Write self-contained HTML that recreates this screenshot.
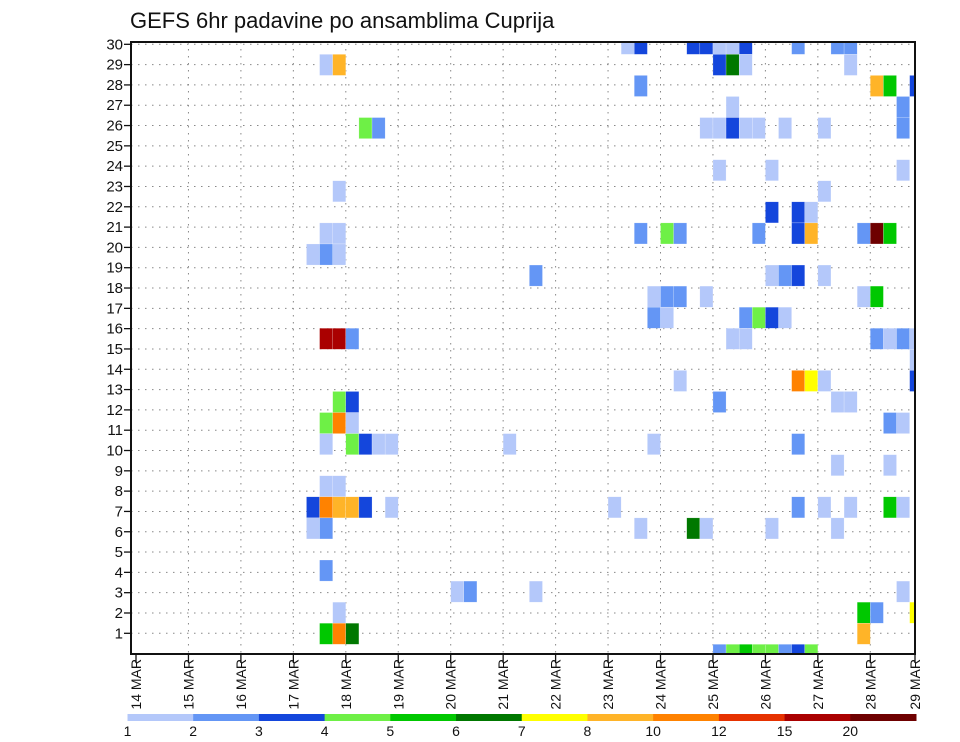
<!DOCTYPE html>
<html><head><meta charset="utf-8"><style>
body{margin:0;background:#fff;}
svg{display:block;font-family:"Liberation Sans",sans-serif;}
</style></head><body>
<svg id="chart" width="960" height="742" viewBox="0 0 960 742" xmlns="http://www.w3.org/2000/svg">
<rect width="960" height="742" fill="#fff"/>
<text x="130" y="28" font-size="22" fill="#111">GEFS 6hr padavine po ansamblima Cuprija</text>
<defs><clipPath id="pc"><rect x="131" y="42" width="784" height="612"/></clipPath></defs>
<g id="grid"></g>
<g id="cells" clip-path="url(#pc)"></g>
<rect x="131" y="42" width="784" height="612" fill="none" stroke="#111" stroke-width="2"/>
<g id="axes"></g>
<g id="cbar"></g>
</svg>
<script>
const dayLabels=["14 MAR","15 MAR","16 MAR","17 MAR","18 MAR","19 MAR","20 MAR","21 MAR","22 MAR","23 MAR","24 MAR","25 MAR","26 MAR","27 MAR","28 MAR","29 MAR"];
const memberTicks=[1,2,3,4,5,6,7,8,9,10,11,12,13,14,15,16,17,18,19,20,21,22,23,24,25,26,27,28,29,30];
const levelLabels=["1","2","3","4","5","6","7","8","10","12","15","20"];
const levelColors=["#b4c8fa","#6496f5","#1446dc","#6ef046","#00c800","#007800","#ffff00","#ffb428","#ff8200","#e63200","#aa0000","#6e0000"];
// member row index (0 = bottom), 6-hour step index from 14 MAR 00z, level category
const cellMember=[29,29,29,29,29,29,29,29,29,29,
28,28,28,28,28,28,
27,27,27,27,
26,26,
25,25,25,25,25,25,25,25,25,25,
23,23,23,
22,22,
21,21,21,
20,20,20,20,20,20,20,20,20,20,20,
19,19,19,
18,18,18,18,18,
17,17,17,17,17,17,
16,16,16,16,16,16,
15,15,15,15,15,15,15,15,15,
14,
13,13,13,13,13,
12,12,12,12,12,
11,11,11,11,11,
10,10,10,10,10,10,10,10,
9,9,
8,8,
7,7,7,7,7,7,7,7,7,7,7,7,
6,6,6,6,6,6,6,
4,
3,3,3,3,
2,2,2,2,
1,1,1,1,
0,0,0,0,0,0,0,0];
const cellStep=[37,38,42,43,44,45,46,50,53,54,
14,15,44,45,46,54,
38,56,57,59,
45,58,
17,18,43,44,45,46,47,49,52,58,
44,48,58,
15,52,
48,50,51,
14,15,38,40,41,47,50,51,55,56,57,
13,14,15,
30,48,49,50,52,
39,40,41,43,55,56,
39,40,46,47,48,49,
14,15,16,45,46,56,57,58,59,
59,
41,50,51,52,59,
15,16,44,53,54,
14,15,16,57,58,
14,16,17,18,19,28,39,50,
53,57,
14,15,
13,14,15,16,17,19,36,50,52,54,57,58,
13,14,38,42,43,48,53,
14,
24,25,30,58,
15,55,56,59,
14,15,16,55,
44,45,46,47,48,49,50,51];
const cellLevel=[0,2,2,2,0,0,2,1,1,1,
0,7,2,5,0,0,
1,7,4,2,
0,1,
3,1,0,0,2,0,0,0,0,1,
0,0,0,
0,0,
2,2,0,
0,0,1,3,1,1,2,7,1,11,4,
0,1,0,
1,0,1,2,0,
0,1,1,0,0,4,
1,0,1,3,2,0,
10,10,1,0,0,1,0,1,0,
0,
0,8,6,0,2,
3,2,1,0,0,
3,8,0,1,0,
0,3,2,0,0,0,0,1,
0,0,
0,0,
2,8,7,7,2,0,0,1,0,0,4,0,
0,1,0,5,0,0,0,
1,
0,1,0,0,
0,4,1,6,
4,8,5,7,
1,3,4,3,3,1,2,3];
const NS="http://www.w3.org/2000/svg";
const X0=136, DW=52.45, STEPW=DW/4;
const xDay=d=>X0+d*DW;
const xStep=s=>X0+s*STEPW;
const CELLH=21.07;
const yCellTop=m=>644.3-m*CELLH;
const yTick=v=>633.3-(v-1)*20.31;
function mk(tag,attrs,parent){const e=document.createElementNS(NS,tag);for(const k in attrs)e.setAttribute(k,attrs[k]);parent.appendChild(e);return e;}
const grid=document.getElementById('grid'),cells=document.getElementById('cells'),axes=document.getElementById('axes'),cbar=document.getElementById('cbar');
memberTicks.forEach(v=>{
  const l=mk('line',{x1:131,x2:915,y1:yTick(v),y2:yTick(v),stroke:'#888','stroke-width':1,'stroke-dasharray':'1.5 5.5'},grid);
  
  
  const t=mk('line',{x1:124,x2:131,y1:yTick(v),y2:yTick(v),stroke:'#111','stroke-width':1.3},axes);
  
  
  const tx=mk('text',{x:123,y:yTick(v)+5,'text-anchor':'end','font-size':15,fill:'#111'},axes);
  
  
  tx.textContent=v;
});
dayLabels.forEach((lab,d)=>{
  const x=Math.min(xDay(d),915);
  if(d>0&&xDay(d)<915){const l=mk('line',{x1:x,x2:x,y1:42,y2:654,stroke:'#888','stroke-width':1,'stroke-dasharray':'1.5 5.5'},grid);
  
  }
  const t=mk('line',{x1:x,x2:x,y1:654,y2:663,stroke:'#111','stroke-width':1.3},axes);
  
  
  const tx=mk('text',{x:0,y:0,'text-anchor':'end','font-size':14,fill:'#111',transform:`translate(${x+5},659) rotate(-90)`},axes);
  
  
  tx.textContent=lab;
});
for(let k=0;k<cellMember.length;k++){
  const r=mk('rect',{x:xStep(cellStep[k]),y:yCellTop(cellMember[k]),width:STEPW,height:CELLH,fill:levelColors[cellLevel[k]],stroke:'#fff','stroke-width':0.4,'stroke-opacity':0.5},cells);
  
  
}
const CB0=127.5, CBW=(916-127.5)/levelColors.length;
levelColors.forEach((c,i)=>{
  const r=mk('rect',{x:CB0+i*CBW,y:714,width:CBW+0.5,height:7,fill:c},cbar);
  
  
});
levelLabels.forEach((lab,i)=>{
  const t=mk('text',{x:CB0+i*CBW,y:736,'text-anchor':'middle','font-size':14,fill:'#111'},cbar);
  
  
  t.textContent=lab;
});
</script>
</body></html>
